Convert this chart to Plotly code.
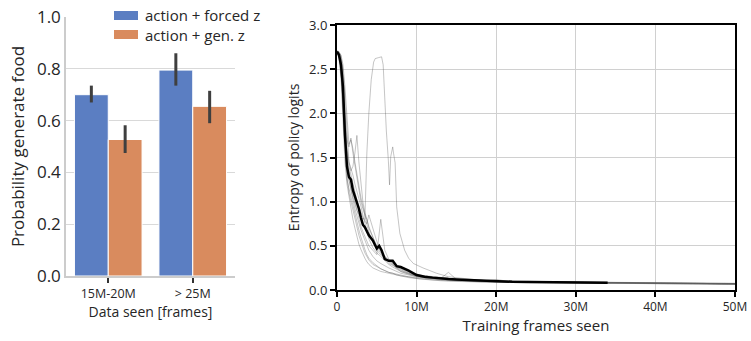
import plotly.graph_objects as go

W, H = 751, 341
FONT = "Open Sans"

# ---------------- left panel data ----------------
groups = ["15M-20M", "> 25M"]
forced_vals = [0.70, 0.795]
forced_err_hi = [0.035, 0.065]
forced_err_lo = [0.030, 0.060]
gen_vals = [0.527, 0.655]
gen_err_hi = [0.055, 0.060]
gen_err_lo = [0.052, 0.065]
legend_labels = ["action + forced z", "action + gen. z"]

# ---------------- right panel data ----------------
frames_m = [0, 0.25, 0.5, 0.75, 1.0, 1.25, 1.5, 1.75, 2.0, 2.25, 2.5, 2.75, 3.0, 3.25, 3.5,
            3.75, 4.0, 4.5, 5.0, 5.5, 6.0, 6.5, 7.0, 7.5, 8.0, 9, 10, 11, 12, 13, 14, 15, 16,
            18, 20, 22, 24, 26, 28, 30, 32, 34, 36, 38, 40, 42, 44, 46, 48, 50]

run_a = [2.70,2.69,2.62,2.40,2.00,1.70,1.62,1.72,1.55,1.40,1.30,1.10,1.00,0.92,0.85,0.74,0.66,0.55,0.45,0.40,0.36,0.30,0.28,0.25,0.22,0.19,0.16,0.15,0.14,0.13,0.20,0.12,0.11,0.10,0.10,0.09,0.09,0.09,0.085,0.09,0.085,0.08,0.085,0.08,0.08,0.075,0.08,0.075,0.07,0.07]
run_b = [2.70,2.66,2.50,2.10,1.60,1.30,1.10,1.00,0.90,0.80,0.72,0.62,0.55,0.48,0.42,0.38,0.34,0.29,0.26,0.24,0.22,0.20,0.19,0.18,0.17,0.15,0.14,0.13,0.12,0.115,0.11,0.105,0.10,0.095,0.09,0.088,0.085,0.083,0.08,0.08,0.078,0.076,0.075,0.073,0.072,0.07,0.07,0.068,0.067,0.065]
run_c = [2.71,2.70,2.65,2.50,2.20,1.80,1.45,1.35,1.40,1.55,1.75,1.45,1.20,1.00,0.88,0.80,0.72,0.60,0.48,0.42,0.36,0.32,0.28,0.24,0.21,0.18,0.15,0.14,0.13,0.12,0.115,0.11,0.105,0.10,0.12,0.09,0.09,0.088,0.085,0.083,0.08,0.08,0.078,0.077,0.076,0.074,0.073,0.072,0.07,0.07]
run_d = [2.69,2.62,2.40,1.95,1.45,1.20,1.05,0.92,0.80,0.70,0.60,0.52,0.46,0.40,0.36,0.32,0.29,0.25,0.23,0.21,0.20,0.19,0.18,0.17,0.16,0.15,0.13,0.12,0.11,0.105,0.10,0.10,0.095,0.09,0.088,0.085,0.082,0.08,0.078,0.076,0.075,0.073,0.072,0.07,0.07,0.068,0.066,0.065,0.064,0.063]
run_e = [2.70,2.68,2.58,2.30,1.90,1.55,1.40,1.30,1.20,1.10,1.02,0.95,0.88,0.82,0.78,0.75,0.85,0.70,0.55,0.45,0.38,0.33,0.29,0.26,0.24,0.20,0.17,0.16,0.15,0.14,0.13,0.12,0.115,0.11,0.10,0.10,0.095,0.09,0.09,0.088,0.086,0.085,0.083,0.082,0.08,0.08,0.078,0.077,0.075,0.074]
run_f = [2.70,2.67,2.55,2.20,1.75,1.50,1.35,1.25,1.10,1.00,0.90,0.80,0.72,0.66,0.60,0.55,0.50,0.45,0.40,0.80,0.45,0.35,0.30,0.26,0.23,0.19,0.16,0.15,0.14,0.13,0.12,0.115,0.11,0.10,0.095,0.09,0.09,0.087,0.085,0.083,0.082,0.08,0.08,0.078,0.076,0.075,0.074,0.072,0.071,0.07]
run_g = [2.70,2.69,2.66,2.55,2.30,1.95,1.65,1.70,1.60,1.45,1.30,1.15,1.05,0.95,0.85,0.80,0.70,0.60,0.50,0.44,0.38,0.34,0.30,0.27,0.25,0.21,0.18,0.16,0.15,0.14,0.13,0.125,0.12,0.11,0.105,0.10,0.097,0.095,0.092,0.09,0.088,0.086,0.085,0.083,0.082,0.08,0.079,0.078,0.076,0.075]
run_h = [2.70,2.65,2.45,2.05,1.55,1.25,1.15,1.05,0.95,0.85,0.75,0.68,0.60,0.52,0.46,0.40,0.36,0.31,0.27,0.24,0.22,0.20,0.19,0.17,0.16,0.14,0.13,0.12,0.115,0.11,0.105,0.10,0.098,0.093,0.09,0.087,0.085,0.082,0.08,0.079,0.077,0.076,0.075,0.073,0.072,0.07,0.069,0.068,0.067,0.066]
run_i = [2.70,2.68,2.60,2.35,1.95,1.60,1.45,1.38,1.30,1.20,1.12,1.05,0.95,0.85,0.75,0.65,0.58,0.48,0.42,0.38,0.33,0.29,0.26,0.23,0.21,0.18,0.16,0.14,0.13,0.125,0.12,0.115,0.11,0.10,0.10,0.095,0.09,0.09,0.088,0.087,0.085,0.084,0.082,0.08,0.08,0.078,0.077,0.076,0.075,0.074]
run_j = [2.70,2.67,2.52,2.15,1.70,1.40,1.25,1.12,1.02,0.92,0.85,0.76,0.68,0.62,0.56,0.50,0.45,0.38,0.33,0.30,0.27,0.25,0.23,0.21,0.19,0.17,0.15,0.14,0.13,0.12,0.115,0.11,0.105,0.10,0.095,0.092,0.09,0.088,0.085,0.083,0.082,0.08,0.079,0.078,0.076,0.075,0.074,0.073,0.072,0.071]
grey_runs = [run_a, run_b, run_c, run_d, run_e, run_f, run_g, run_h, run_i, run_j]

spike_frames_m = [0, 0.25, 0.5, 0.75, 1.0, 1.25, 1.5, 2.0, 2.5, 3.0, 3.5, 3.75, 4.0, 4.3, 4.6, 4.8,
                  5.2, 5.6, 5.8, 6.0, 6.2, 6.45, 6.6, 6.75, 7.0, 7.1, 7.3, 7.5, 7.9, 8.5, 9.0, 9.6,
                  10.8, 12.5, 14, 16, 18, 20, 24, 28, 32, 36, 40, 44, 48, 50]
spike_run = [2.70,2.67,2.50,2.15,1.70,1.40,1.25,1.05,0.90,0.82,0.80,1.55,2.00,2.38,2.58,2.62,
             2.63,2.64,2.55,2.11,1.80,1.47,1.19,1.51,1.62,1.55,1.44,0.94,0.64,0.45,0.36,0.30,
             0.25,0.19,0.15,0.13,0.11,0.10,0.095,0.09,0.085,0.08,0.078,0.075,0.072,0.07]

mean_frames_m = [0, 0.25, 0.5, 0.75, 1.0, 1.1, 1.25, 1.5, 1.75, 2.0, 2.25, 2.5, 2.75, 3.0, 3.25,
                 3.5, 3.75, 4.0, 4.5, 5.0, 5.3, 5.6, 6.0, 6.5, 7.0, 7.5, 8.0, 9, 10, 11, 12, 13,
                 14, 15, 16, 18, 20, 22, 24, 26, 28, 30, 32, 34]
mean_run = [2.70,2.66,2.55,2.30,1.75,1.55,1.40,1.28,1.25,1.13,1.06,0.97,0.92,0.82,0.74,
            0.71,0.67,0.62,0.56,0.47,0.50,0.45,0.35,0.33,0.33,0.27,0.26,0.22,0.17,0.15,0.14,0.13,
            0.125,0.12,0.115,0.105,0.095,0.093,0.09,0.088,0.086,0.084,0.083,0.082]

x_tickvals = [0, 10, 20, 30, 40, 50]
x_ticktext = ["0", "10M", "20M", "30M", "40M", "50M"]

BLUE = "#5b7ec2"
ORANGE = "#d98b5e"

fig = go.Figure()

# bars
fig.add_trace(go.Bar(x=groups, y=forced_vals, name=legend_labels[0], marker_color=BLUE,
                     marker_line=dict(color="white", width=1),
                     error_y=dict(type="data", array=forced_err_hi, arrayminus=forced_err_lo,
                                  color="#3f3f3f", thickness=3, width=0),
                     xaxis="x", yaxis="y", showlegend=False))
fig.add_trace(go.Bar(x=groups, y=gen_vals, name=legend_labels[1], marker_color=ORANGE,
                     marker_line=dict(color="white", width=1),
                     error_y=dict(type="data", array=gen_err_hi, arrayminus=gen_err_lo,
                                  color="#3f3f3f", thickness=3, width=0),
                     xaxis="x", yaxis="y", showlegend=False))

# grey runs
for r in grey_runs:
    fig.add_trace(go.Scatter(x=frames_m, y=r, mode="lines", xaxis="x2", yaxis="y2",
                             line=dict(color="rgba(90,90,90,0.35)", width=1), showlegend=False,
                             hoverinfo="skip"))
fig.add_trace(go.Scatter(x=spike_frames_m, y=spike_run, mode="lines", xaxis="x2", yaxis="y2",
                         line=dict(color="rgba(90,90,90,0.35)", width=1), showlegend=False,
                         hoverinfo="skip"))
fig.add_trace(go.Scatter(x=mean_frames_m, y=mean_run, mode="lines", xaxis="x2", yaxis="y2",
                         line=dict(color="black", width=2.5), showlegend=False))

def px(v):
    return v / W

def py(v):
    return 1 - v / H

shapes = [
    # legend background
    dict(type="rect", xref="paper", yref="paper", x0=px(111), x1=px(278), y0=py(44), y1=py(4),
         fillcolor="white", line=dict(width=0), layer="above"),
    dict(type="rect", xref="paper", yref="paper", x0=px(114), x1=px(138), y0=py(20), y1=py(11),
         fillcolor=BLUE, line=dict(width=0), layer="above"),
    dict(type="rect", xref="paper", yref="paper", x0=px(114), x1=px(138), y0=py(39), y1=py(30),
         fillcolor=ORANGE, line=dict(width=0), layer="above"),
]
annotations = [
    dict(text=legend_labels[0], xref="paper", yref="paper", x=px(143), y=py(15.5),
         xanchor="left", yanchor="middle", showarrow=False, font=dict(size=15, color="#262626")),
    dict(text=legend_labels[1], xref="paper", yref="paper", x=px(143), y=py(34.5),
         xanchor="left", yanchor="middle", showarrow=False, font=dict(size=15, color="#262626")),
]

fig.update_layout(
    width=W, height=H, margin=dict(l=0, r=0, t=0, b=0, autoexpand=False),
    paper_bgcolor="white", plot_bgcolor="white", showlegend=False,
    font=dict(family=FONT, color="#262626"),
    barmode="group", bargap=0.2, bargroupgap=0,
    shapes=shapes, annotations=annotations,
    xaxis=dict(domain=[px(66), px(235)], range=[-0.5, 1.5], type="category", automargin=False,
               showline=True, linecolor="#cccccc", linewidth=1.5, showgrid=False,
               ticks="outside", ticklen=5, tickwidth=1.5, tickcolor="#333333",
               tickfont=dict(size=12.5), title=dict(text="Data seen [frames]", font=dict(size=14), standoff=4),
               zeroline=False, anchor="y", ticklabeloverflow="allow"),
    yaxis=dict(domain=[py(276), py(17)], range=[0, 1.0], tickvals=[0, 0.2, 0.4, 0.6, 0.8, 1.0],
               ticktext=["0.0", "0.2", "0.4", "0.6", "0.8", "1.0"], automargin=False,
               showline=True, linecolor="#cccccc", linewidth=1.5, showgrid=True,
               gridcolor="#d9d9d9", gridwidth=1, ticks="", tickfont=dict(size=17),
               title=dict(text="Probability generate food", font=dict(size=17), standoff=8),
               zeroline=False, anchor="x", ticklabeloverflow="allow"),
    xaxis2=dict(domain=[px(337), px(735)], range=[0, 50], tickvals=x_tickvals, ticktext=x_ticktext,
                showline=True, mirror=True, linecolor="black", linewidth=2, showgrid=True,
                gridcolor="#d0d0d0", gridwidth=1, ticks="outside", ticklen=5, tickcolor="black",
                tickwidth=1.5, tickfont=dict(size=12), automargin=False,
                title=dict(text="Training frames seen", font=dict(size=15), standoff=4),
                zeroline=False, anchor="y2", ticklabeloverflow="allow"),
    yaxis2=dict(domain=[py(290), py(25)], range=[0, 3.0], tickvals=[0, 0.5, 1.0, 1.5, 2.0, 2.5, 3.0],
                ticktext=["0.0", "0.5", "1.0", "1.5", "2.0", "2.5", "3.0"], automargin=False,
                showline=True, mirror=True, linecolor="black", linewidth=2, showgrid=True,
                gridcolor="#d0d0d0", gridwidth=1, ticks="outside", ticklen=5, tickcolor="black",
                tickwidth=1.5, tickfont=dict(size=13),
                title=dict(text="Entropy of policy logits", font=dict(size=14), standoff=6),
                zeroline=False, anchor="x2", ticklabeloverflow="allow"),
)

fig.write_html("out.html", config={"displayModeBar": False},
               post_script="document.body.style.margin='0px';")
